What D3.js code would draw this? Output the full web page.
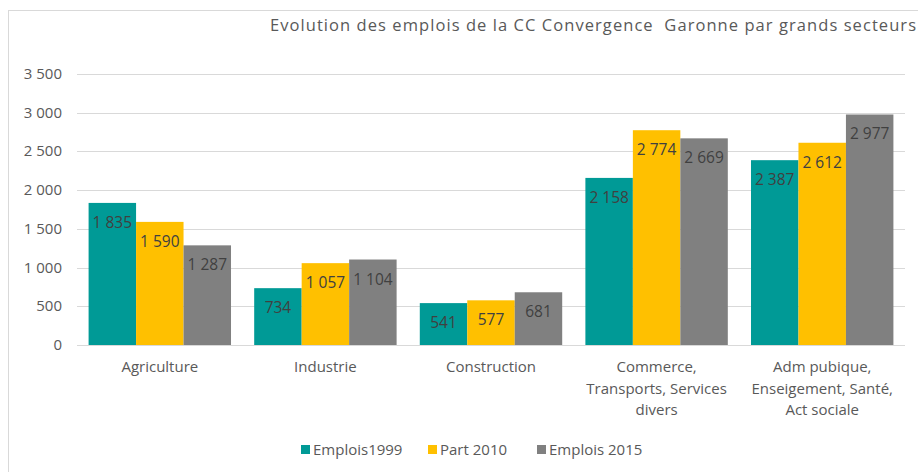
<!DOCTYPE html>
<html>
<head>
<meta charset="utf-8">
<script src="https://cdn.jsdelivr.net/npm/d3@7"></script>
<style>
  body { margin: 0; background: #fff; }
  svg text { font-family: "Open Sans", "Noto Sans", sans-serif; }
</style>
</head>
<body>
<div id="graphicContainer"></div>
<script>
var categories = [
  ["Agriculture"],
  ["Industrie"],
  ["Construction"],
  ["Commerce,", "Transports, Services", "divers"],
  ["Adm pubique,", "Enseigement, Santé,", "Act sociale"]
]
var seriesNames = ["Emplois1999", "Part 2010", "Emplois 2015"]
var emplois1999 = [1835, 734, 541, 2158, 2387]
var part2010 = [1590, 1057, 577, 2774, 2612]
var emplois2015 = [1287, 1104, 681, 2669, 2977]
var yTicks = [0, 500, 1000, 1500, 2000, 2500, 3000, 3500]
var colors = ["#009a96", "#ffc000", "#808080"]

var width = 918, height = 472
var margin = { top: 74, right: 13, bottom: 127, left: 77 }
var innerW = width - margin.left - margin.right
var innerH = height - margin.top - margin.bottom

var fmt = function (d) {
  return d3.format(",")(d).replace(/,/g, " ")
}

var svg = d3.select("#graphicContainer").append("svg")
  .attr("width", width)
  .attr("height", height)

// chart frame
svg.append("rect")
  .attr("x", 8.5).attr("y", 10.5)
  .attr("width", width + 20).attr("height", height + 20)
  .attr("fill", "none")
  .attr("stroke", "#d9d9d9")

svg.append("text")
  .attr("x", 270)
  .attr("y", 31)
  .attr("font-size", 16.5)
  .attr("fill", "#595959")
  .attr("textLength", 646)
  .attr("lengthAdjust", "spacing")
  .style("white-space", "pre")
  .text("Evolution des emplois de la CC Convergence  Garonne par grands secteurs")

var g = svg.append("g").attr("transform", "translate(" + margin.left + "," + margin.top + ")")

var x0 = d3.scaleBand().domain(d3.range(categories.length)).range([0, innerW]).paddingInner(0.14).paddingOuter(0.07)
var x1 = d3.scaleBand().domain(d3.range(3)).range([0, x0.bandwidth()])
var y = d3.scaleLinear().domain([0, 3500]).range([innerH, 0])

// gridlines
g.selectAll(".grid")
  .data(yTicks)
  .enter().append("line")
  .attr("x1", 0).attr("x2", innerW)
  .attr("y1", d => Math.round(y(d)) + 0.5)
  .attr("y2", d => Math.round(y(d)) + 0.5)
  .attr("stroke", "#d9d9d9")
  .attr("stroke-width", 1)

g.selectAll(".ytick")
  .data(yTicks)
  .enter().append("text")
  .attr("x", -15)
  .attr("y", d => y(d) + 5)
  .attr("text-anchor", "end")
  .attr("font-size", 15)
  .attr("fill", "#595959")
  .text(d => fmt(d))

var series = [emplois1999, part2010, emplois2015]
var bars = []
categories.forEach(function (c, i) {
  series.forEach(function (s, j) {
    bars.push({ cat: i, ser: j, value: s[i] })
  })
})

g.selectAll(".bar")
  .data(bars)
  .enter().append("rect")
  .attr("class", "bar")
  .attr("x", d => x0(d.cat) + x1(d.ser))
  .attr("y", d => y(d.value))
  .attr("width", x1.bandwidth())
  .attr("height", d => y(0) - y(d.value))
  .attr("fill", d => colors[d.ser])

g.selectAll(".label")
  .data(bars)
  .enter().append("text")
  .attr("x", d => x0(d.cat) + x1(d.ser) + x1.bandwidth() / 2)
  .attr("y", d => y(d.value) + 25)
  .attr("text-anchor", "middle")
  .attr("font-size", 15.5)
  .attr("fill", "#404040")
  .text(d => fmt(d.value))

// category labels
var xl = g.selectAll(".xlab")
  .data(categories)
  .enter().append("text")
  .attr("text-anchor", "middle")
  .attr("font-size", 15)
  .attr("fill", "#595959")
  .attr("transform", (d, i) => "translate(" + (x0(i) + x0.bandwidth() / 2) + "," + (innerH + 27) + ")")
xl.selectAll("tspan")
  .data(d => d)
  .enter().append("tspan")
  .attr("x", 0)
  .attr("y", (d, i) => i * 21.5)
  .text(d => d)

// legend
var legendX = [301, 428, 537]
var legend = svg.selectAll(".legend")
  .data(seriesNames)
  .enter().append("g")
  .attr("transform", (d, i) => "translate(" + legendX[i] + ",450)")
legend.append("rect")
  .attr("x", 0).attr("y", -5)
  .attr("width", 9).attr("height", 9)
  .attr("fill", (d, i) => colors[i])
legend.append("text")
  .attr("x", 12)
  .attr("y", 5)
  .attr("font-size", 15)
  .attr("fill", "#595959")
  .text(d => d)
</script>
</body>
</html>
